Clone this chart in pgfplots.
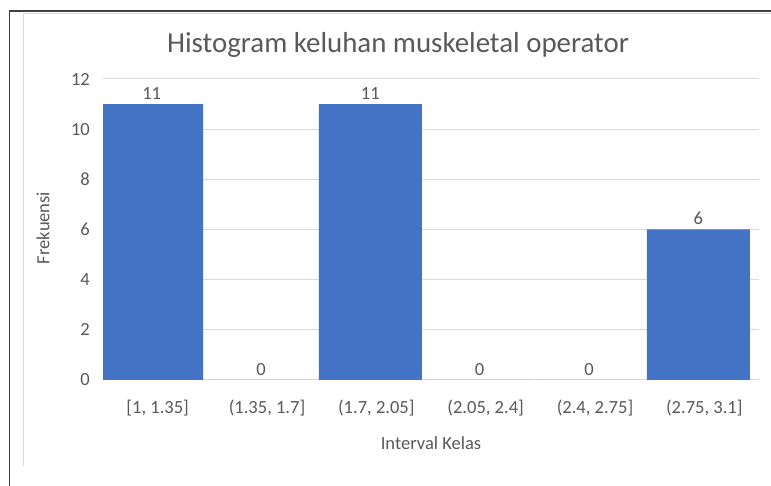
\documentclass[border=0pt]{standalone}
\usepackage{fontspec}
\setmainfont{Carlito}
\usepackage{pgfplots}
\pgfplotsset{compat=1.18}
\definecolor{barblue}{HTML}{4472C4}
\definecolor{txt}{HTML}{595959}
\definecolor{gridc}{HTML}{D9D9D9}
\begin{document}
\begin{tikzpicture}
\path[use as bounding box] (0,0) rectangle (771bp,486bp);
\fill[white] (0,0) rectangle (771bp,486bp);
\draw[gridc, line width=1bp] (23.5bp,20bp) -- (23.5bp,472.5bp) -- (771bp,472.5bp);
\draw[black!75, line width=1.5bp] (9.3bp,0) -- (9.3bp,475bp) -- (771bp,475bp);
\node[txt, font=\fontsize{29}{34}\selectfont, anchor=base, inner sep=0pt] at (398bp,433.3bp) {Histogram keluhan muskeletal operator};
\begin{axis}[
  at={(103bp,106bp)}, anchor=south west,
  scale only axis, width=656bp, height=301bp,
  ybar, bar width=103bp, bar shift=-6bp,
  xmin=-0.5, xmax=5.5, ymin=0, ymax=12,
  enlargelimits=false,
  xtick=data,
  xticklabels={{[1, 1.35]},{(1.35, 1.7]},{(1.7, 2.05]},{(2.05, 2.4]},{(2.4, 2.75]},{(2.75, 3.1]}},
  ytick={0,2,4,6,8,10,12},
  ymajorgrids, grid style={gridc, line width=1bp},
  axis line style={draw=none},
  major tick length=0pt,
  /pgf/number format/assume math mode=true,
  tick label style={txt, font=\fontsize{18.6}{22}\selectfont},
  yticklabel style={anchor=east, inner sep=0pt, xshift=-13bp},
  xticklabel style={anchor=base, inner sep=0pt, yshift=-34bp},
  xlabel={Interval Kelas},
  ylabel={Frekuensi},
  label style={txt, font=\fontsize{18.6}{22}\selectfont},
  xlabel style={at={(axis description cs:0.5,0)}, anchor=center, yshift=-63bp},
  ylabel style={at={([xshift=-60bp]axis description cs:0,0.505)}, anchor=center, rotate=0},
  nodes near coords,
  nodes near coords style={txt, font=\fontsize{18.6}{22}\selectfont, anchor=south, inner sep=0pt, yshift=4.5bp},
]
\addplot[fill=barblue, draw=none] coordinates {(0,11) (1,0) (2,11) (3,0) (4,0) (5,6)};
\end{axis}
\end{tikzpicture}
\end{document}
